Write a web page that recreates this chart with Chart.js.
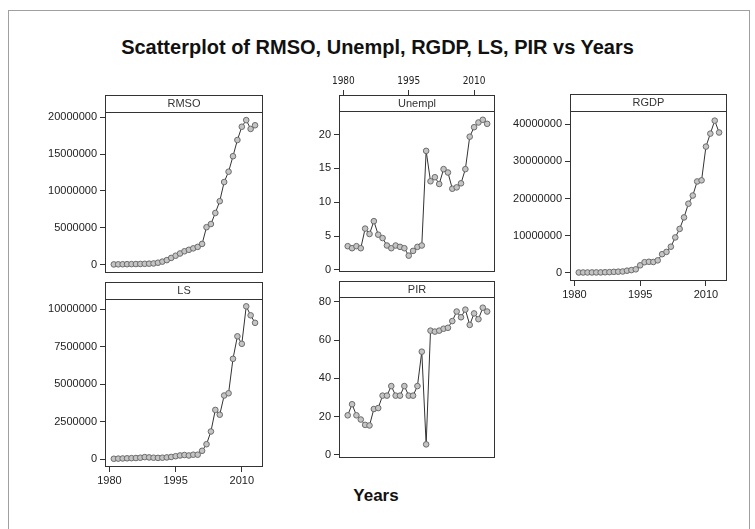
<!DOCTYPE html>
<html>
<head>
<meta charset="utf-8">
<script src="https://cdn.jsdelivr.net/npm/chart.js@4.4.1/dist/chart.umd.min.js"></script>
<style>
  body { margin: 0; background: #fff; }
  #page { position: relative; width: 755px; height: 529px; overflow: hidden; }
  #border { position: absolute; left: 8px; top: 10px; width: 740px; height: 540px; border: 1px solid #a0a0a0; }
  #title { position: absolute; left: 0; top: 36px; width: 755px; text-align: center;
           font: bold 20px 'Liberation Sans', Arial, sans-serif; color: #111; }
  #xlabel { position: absolute; left: 296px; top: 486px; width: 160px; text-align: center;
            font: bold 17px 'Liberation Sans', Arial, sans-serif; color: #111; }
  canvas { position: absolute; }
</style>
</head>
<body>
<div id="page">
  <div id="border"></div>
  <div id="title">Scatterplot of RMSO, Unempl, RGDP, LS, PIR vs Years</div>
  <div id="xlabel">Years</div>
</div>
<script>
const years = [1981, 1982, 1983, 1984, 1985, 1986, 1987, 1988, 1989, 1990, 1991,
  1992, 1993, 1994, 1995, 1996, 1997, 1998, 1999, 2000, 2001, 2002,
  2003, 2004, 2005, 2006, 2007, 2008, 2009, 2010, 2011, 2012, 2013];

const rmso = [20000, 30000, 40000, 50000, 60000, 70000, 80000, 100000, 120000, 150000, 250000,
  400000, 600000, 900000, 1200000, 1500000, 1800000, 2000000, 2200000, 2400000, 2800000, 5070000,
  5500000, 7000000, 8600000, 11200000, 12600000, 14700000, 16900000, 18700000, 19600000, 18400000, 18900000];

const unempl = [3.5, 3.2, 3.5, 3.2, 6.1, 5.3, 7.2, 5.2, 4.7, 3.6, 3.2,
  3.6, 3.4, 3.2, 2.1, 2.8, 3.4, 3.6, 17.6, 13.1, 13.7, 12.7,
  14.9, 14.4, 12.0, 12.2, 12.8, 14.9, 19.7, 21.1, 21.8, 22.2, 21.6];

const rgdp = [48000, 49000, 53000, 60000, 68000, 69000, 105000, 139000, 217000, 268000, 312000,
  533000, 684000, 900000, 1980000, 2820000, 2940000, 2880000, 3320000, 4980000, 5600000, 7000000,
  9500000, 11800000, 14900000, 18600000, 20800000, 24600000, 24900000, 34000000, 37500000, 41000000, 37800000];

const ls = [30000, 40000, 50000, 60000, 70000, 80000, 100000, 140000, 120000, 100000, 90000,
  100000, 120000, 150000, 200000, 250000, 280000, 250000, 300000, 300000, 560000, 1000000,
  1850000, 3290000, 2970000, 4250000, 4400000, 6700000, 8200000, 7700000, 10200000, 9600000, 9100000];

const pir = [20.7, 26.5, 20.7, 18.5, 15.7, 15.4, 24, 24.5, 31, 31, 36,
  31, 31, 36, 31, 31, 36, 54, 5.5, 65, 64.5, 65,
  66, 66.5, 70, 75, 72, 76, 68, 74, 71, 77, 75];

const yearTicks = [1980, 1995, 2010];
const rmsoTicks = [0, 5000000, 10000000, 15000000, 20000000];
const unemplTicks = [0, 5, 10, 15, 20];
const rgdpTicks = [0, 10000000, 20000000, 30000000, 40000000];
const lsTicks = [0, 2500000, 5000000, 7500000, 10000000];
const pirTicks = [0, 20, 40, 60, 80];

Chart.defaults.font.family = "'Liberation Sans', Arial, sans-serif";
Chart.defaults.font.size = 11;
Chart.defaults.color = '#222';

const framePlugin = {
  id: 'frame',
  afterDraw(chart) {
    const ctx = chart.ctx, a = chart.chartArea, t = chart.titleBlock;
    const l = Math.round(a.left) + 0.5, r = Math.round(a.right) - 0.5;
    const top = Math.round(t.top) + 0.5, mid = Math.round(a.top) + 0.5, b = Math.round(a.bottom) - 0.5;
    ctx.save();
    ctx.strokeStyle = '#333';
    ctx.lineWidth = 1;
    ctx.strokeRect(l, top, r - l, b - top);
    ctx.beginPath();
    ctx.moveTo(l, mid);
    ctx.lineTo(r, mid);
    ctx.stroke();
    ctx.restore();
  }
};

function panel(p) {
  const topH = p.xPos === 'top' ? 24 : 0;
  const bottomH = p.xPos === 'bottom' ? 24 : 0;
  const stripH = p.plotTop - p.stripTop;
  const fw = p.right - p.left;
  const canvas = document.createElement('canvas');
  canvas.width = p.yW + fw + 2;
  canvas.height = topH + (p.plotBottom - p.stripTop) + bottomH + 1;
  canvas.style.left = (p.left - p.yW) + 'px';
  canvas.style.top = (p.stripTop - topH) + 'px';
  document.getElementById('page').appendChild(canvas);

  new Chart(canvas, {
    type: 'scatter',
    data: {
      datasets: [{
        data: years.map((yr, i) => ({ x: yr, y: p.values[i] })),
        showLine: true,
        borderColor: '#333',
        borderWidth: 1,
        pointRadius: 2.8,
        pointBorderWidth: 1,
        pointBorderColor: '#6b6b6b',
        pointBackgroundColor: '#c4c4c4'
      }]
    },
    options: {
      responsive: false,
      animation: false,
      events: [],
      layout: { padding: { right: 2, bottom: bottomH ? 0 : 1 } },
      plugins: {
        legend: { display: false },
        tooltip: { enabled: false },
        title: {
          display: true,
          text: p.label,
          position: 'top',
          fullSize: false,
          weight: -1,
          color: '#333',
          font: { size: 11, weight: 'normal', lineHeight: 13 / 11 },
          padding: { top: 2, bottom: stripH - 15 }
        }
      },
      scales: {
        x: {
          type: 'linear',
          position: p.xPos || 'bottom',
          display: !!p.xPos,
          min: 1979,
          max: 2014.8,
          afterBuildTicks: s => { s.ticks = yearTicks.map(v => ({ value: v })); },
          afterFit: s => { s.height = topH || bottomH; },
          grid: { drawOnChartArea: false, tickLength: 5, color: '#333' },
          border: { display: false },
          ticks: {
            padding: p.xPos === 'top' ? 3 : 2,
            font: p.xPos === 'top'
              ? { size: 10, family: "'Liberation Sans Narrow', 'DejaVu Sans Condensed', 'Liberation Sans', sans-serif" }
              : { size: 11 },
            callback: v => String(v)
          }
        },
        y: {
          min: p.ymin,
          max: p.ymax,
          afterBuildTicks: s => { s.ticks = p.ticks.map(v => ({ value: v })); },
          afterFit: s => { s.width = p.yW; },
          grid: { drawOnChartArea: false, tickLength: 5, color: '#333' },
          border: { display: false },
          ticks: { padding: 3, callback: v => String(v) }
        }
      }
    },
    plugins: [framePlugin]
  });
}

panel({ label: 'RMSO', values: rmso, ticks: rmsoTicks, left: 105, right: 266, stripTop: 95, plotTop: 112, plotBottom: 282,
        ymin: -1200000, ymax: 20700000, yW: 62 });
panel({ label: 'LS', values: ls, ticks: lsTicks, left: 105, right: 266, stripTop: 282, plotTop: 299, plotBottom: 466,
        ymin: -520000, ymax: 10690000, yW: 62, xPos: 'bottom' });
panel({ label: 'Unempl', values: unempl, ticks: unemplTicks, left: 339, right: 498, stripTop: 95, plotTop: 111, plotBottom: 281,
        ymin: -0.38, ymax: 23.5, yW: 32, xPos: 'top' });
panel({ label: 'PIR', values: pir, ticks: pirTicks, left: 339, right: 498, stripTop: 281, plotTop: 297, plotBottom: 467,
        ymin: -1.84, ymax: 82.6, yW: 32 });
panel({ label: 'RGDP', values: rgdp, ticks: rgdpTicks, left: 570, right: 730, stripTop: 94, plotTop: 111, plotBottom: 280,
        ymin: -2250000, ymax: 43600000, yW: 62, xPos: 'bottom' });
</script>
</body>
</html>
